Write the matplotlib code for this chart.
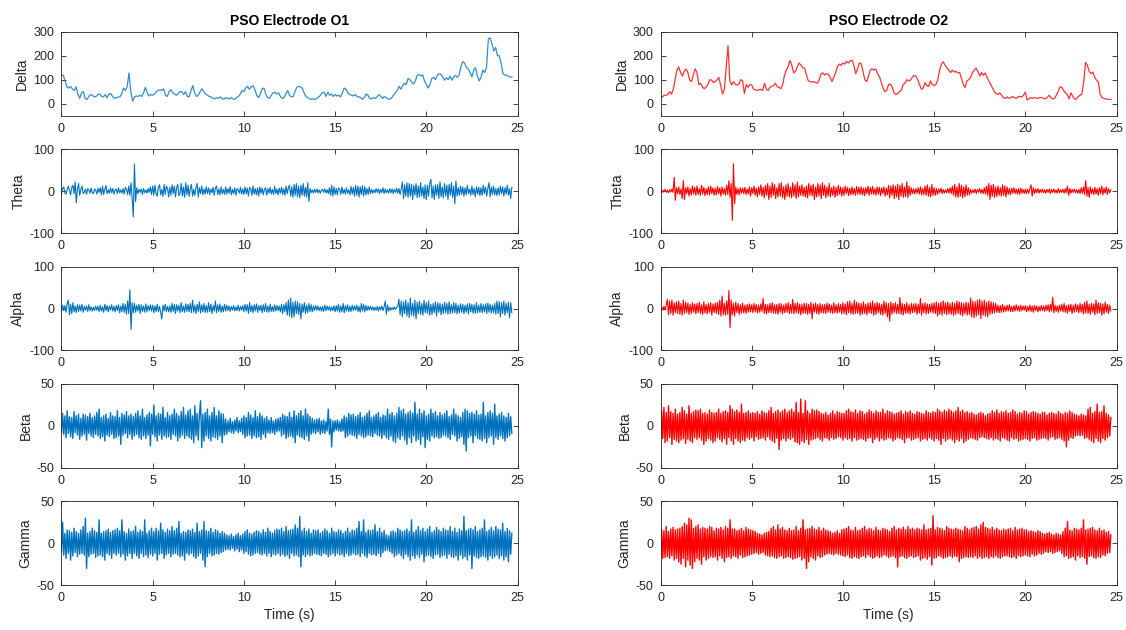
import numpy as np
import matplotlib.pyplot as plt

plt.rcParams['font.family'] = ['Liberation Sans', 'DejaVu Sans']
plt.rcParams['axes.unicode_minus'] = False

# sampling steps (s) of the stored band signals
delta_dt = 0.1
band_dt = 0.0625

# Delta band, electrode O1 and O2 (0.1 s steps)
delta_o1 = [120, 118, 95, 70, 65, 72, 60, 55, 70, 40,
            22, 45, 50, 22, 18, 30, 38, 35, 28, 30,
            38, 40, 30, 28, 38, 25, 40, 42, 30, 22,
            25, 27, 28, 40, 65, 55, 70, 128, 50, 10,
            28, 32, 30, 35, 30, 45, 68, 45, 32, 38,
            35, 40, 50, 55, 58, 55, 62, 35, 30, 50,
            58, 45, 40, 35, 42, 50, 50, 38, 50, 30,
            28, 55, 75, 45, 30, 35, 50, 62, 50, 40,
            35, 30, 28, 22, 20, 25, 22, 28, 22, 18,
            25, 22, 20, 25, 20, 18, 25, 30, 40, 55,
            50, 65, 72, 60, 70, 75, 60, 35, 25, 40,
            62, 65, 40, 25, 22, 35, 45, 48, 40, 45,
            30, 22, 25, 40, 55, 35, 28, 30, 50, 68,
            72, 70, 65, 45, 30, 25, 20, 18, 20, 18,
            22, 28, 35, 45, 48, 30, 48, 35, 40, 30,
            38, 32, 35, 28, 45, 65, 60, 45, 38, 35,
            32, 38, 30, 28, 25, 18, 25, 40, 35, 22,
            20, 25, 22, 28, 38, 30, 22, 30, 25, 20,
            18, 25, 35, 45, 55, 72, 60, 75, 85, 80,
            105, 100, 90, 82, 95, 118, 122, 115, 120, 95,
            80, 65, 80, 105, 110, 100, 118, 125, 122, 112,
            98, 108, 100, 115, 98, 112, 118, 110, 120, 155,
            175, 170, 150, 145, 130, 112, 140, 150, 115, 95,
            110, 140, 130, 150, 270, 275, 250, 220, 235, 200,
            200, 170, 125, 120, 118, 115, 110, 112]

delta_o2 = [22, 28, 35, 35, 38, 50, 40, 60, 100, 140,
            153, 130, 115, 135, 145, 130, 98, 92, 120, 145,
            130, 80, 85, 70, 62, 70, 80, 100, 98, 88,
            92, 100, 110, 75, 40, 60, 150, 242, 95, 78,
            92, 80, 78, 82, 100, 95, 42, 80, 68, 80,
            78, 60, 58, 55, 58, 60, 55, 85, 60, 55,
            68, 72, 75, 85, 70, 68, 62, 80, 120, 140,
            155, 180, 160, 128, 135, 155, 170, 160, 150, 148,
            120, 95, 92, 90, 92, 88, 85, 100, 125, 128,
            120, 125, 122, 110, 92, 110, 130, 155, 165, 160,
            170, 165, 176, 170, 178, 181, 160, 125, 145, 170,
            168, 135, 100, 92, 115, 140, 146, 140, 145, 125,
            113, 90, 65, 50, 55, 80, 82, 70, 45, 38,
            42, 50, 55, 80, 85, 100, 95, 98, 110, 118,
            115, 100, 80, 60, 65, 88, 75, 72, 95, 80,
            75, 80, 100, 140, 165, 175, 160, 150, 140, 130,
            140, 132, 135, 128, 130, 105, 80, 68, 95, 100,
            110, 130, 140, 148, 135, 115, 130, 118, 128, 110,
            95, 80, 65, 50, 42, 38, 45, 35, 25, 22,
            28, 22, 25, 30, 25, 22, 28, 30, 28, 35,
            48, 15, 20, 25, 22, 25, 24, 22, 26, 25,
            22, 20, 25, 35, 25, 20, 22, 35, 50, 70,
            68, 55, 45, 38, 20, 45, 30, 18, 20, 30,
            35, 40, 90, 172, 160, 135, 125, 132, 110, 98,
            90, 40, 25, 22, 20, 18, 18, 18]

# Theta band (0.0625 s steps)
theta_o1 = [-8, 6, 10, -5, -7, 4, 12, 2, -9, 8, 14, -6, 22, -28, 6, 18,
            -10, 4, 12, -6, -3, 5, -8, 6, 3, -5, 7, -4, -6, 5, 2, -7,
            6, -3, 8, -9, 12, -8, 4, 13, -6, 3, -5, 8, -4, 6, -7, 3,
            5, -6, 8, -4, 3, -5, 6, -7, 9, 4, -8, 12, -10, 20, -18, -62,
            65, -25, 8, -6, 4, -3, 5, -8, 6, -4, 3, -5, 6, -3, 10, -8,
            12, -10, 14, -6, -12, 10, 15, -9, 4, -13, 16, -8, 12, 6, -14, 9,
            -10, 15, -6, 12, -14, 8, 16, -11, -5, 18, -12, 10, -15, 20, -9, 14,
            -13, 6, 16, -12, 4, -10, 9, 18, -14, 8, -6, 12, -9, 5, -7, 10,
            -6, 8, -8, 5, -4, 9, -10, 7, 12, -8, 5, -9, 10, -6, 4, -8,
            10, -7, 6, -5, 11, -9, 4, -6, 8, -10, 6, 3, -5, 9, -7, 5,
            -8, 10, -6, 7, -12, 9, 5, -10, 12, -7, 6, -9, 8, -12, 10, -5,
            7, -9, 4, 8, -10, 6, -5, 9, -7, 4, -8, 11, -6, 5, -9, 7,
            -5, 9, -8, 6, -10, 12, -6, 8, 14, -12, 10, -15, 16, -10, 18, -14,
            12, -16, 14, -10, 18, -12, 9, -14, 20, -25, 6, -4, 3, -5, 4, -3,
            5, -4, 3, -5, 2, 4, -3, 5, -4, 3, -6, 8, -10, 14, -12, 10,
            -8, 6, -9, 7, 5, -8, 10, -6, 4, -7, 8, -5, 3, -9, 11, -7,
            9, -12, 14, -10, 12, -14, 10, -8, 13, -12, 11, -9, 6, -8, 10, -6,
            4, -5, 3, -4, 6, -3, 5, -6, 4, -3, 8, -6, 5, -4, 3, -5,
            6, -4, 5, -6, 4, -3, 7, -5, 6, -8, 5, 22, -18, 15, -12, 20,
            -15, 18, -12, 16, -20, 14, -10, 18, -16, 12, -14, 20, -12, 10, -18, 15,
            -20, 14, -12, 18, 28, -16, 12, -20, 15, -10, 16, -18, 22, -14, 10, -16,
            18, -12, 14, -20, 16, -10, 20, -15, 12, -30, 24, -12, 8, -10, 12, -8,
            10, -12, 8, -9, 14, -6, 5, -10, 12, -8, 6, -14, 10, -7, 9, -11,
            8, -10, 14, -6, 9, -12, 7, 20, -14, 10, -8, 12, -9, 6, -11, 8,
            -9, 12, -6, 10, -12, 8, -7, 14, -10, 6, -18, 9]

theta_o2 = [-2, 3, -3, 2, 4, -3, 2, -4, 3, -2, 5, -3, 33, -22, 8, -6,
            10, -8, 5, -18, 25, -20, 8, -6, 10, -12, 6, -9, 12, -7, 9, -10,
            12, -8, 6, -10, 14, -7, 9, -11, 6, -8, 10, -9, 12, -6, 8, -10,
            7, -9, 11, -6, 8, -12, 10, -7, 6, -10, 14, -8, 25, -15, 18, -70,
            65, -30, 10, -8, 6, -9, 8, -5, 7, -6, 9, -8, 5, -7, 10, -12,
            8, -6, 12, -10, 7, -14, 10, -8, 15, -12, 9, -16, 14, -10, 18, -20,
            12, -15, 20, -10, 16, -18, 8, -14, 18, -12, 20, -16, 10, -20, 15, -12,
            18, -14, 10, -16, 20, -12, 15, -18, 22, -14, 12, -10, 15, -12, 9, -14,
            12, -16, 18, -10, 14, -12, 16, -20, 10, -14, 18, -12, 15, -18, 20, -10,
            14, -16, 10, -12, 18, -14, 8, -10, 12, -15, 9, -11, 14, -8, 10, -12,
            8, -10, 12, -6, 9, -11, 7, -9, 10, -8, 6, -10, 11, -7, 9, -8,
            10, -9, 7, -11, 8, -6, 12, -10, 9, -7, 11, -8, 6, -9, 10, -7,
            9, -11, 8, -6, 10, -12, 7, -9, 14, -16, 12, -10, 15, -18, 12, -14,
            16, -20, 14, -12, 18, -15, 10, -13, 22, -16, 12, -10, 8, -6, 5, -7,
            6, -5, 8, -7, 10, -9, 6, -8, 12, -10, 15, -12, 9, -14, 16, -10,
            8, -10, 6, -8, 5, -4, 7, -6, 4, -5, 3, -4, 6, -5, 8, -6,
            12, -10, 16, -14, 10, -15, 18, -12, 14, -16, 10, -13, 15, -10, 8, -9,
            4, -5, 3, -4, 5, -6, 4, -3, 6, -5, 4, -6, 8, -7, 12, -10,
            18, -20, 14, -12, 16, -15, 10, -13, 12, -10, 8, -12, 15, -10, 12, -14,
            10, -8, 6, -9, 7, -5, 8, -6, 5, -7, 6, -8, 7, -5, 4, -6,
            5, -6, 4, -5, 6, 15, -12, 8, -6, 5, -4, 6, -5, 4, -3, 5,
            -4, 3, -5, 4, -3, 5, -6, 4, -3, 5, -4, 3, -5, 6, -4, 3,
            -3, 4, -5, 6, -4, 12, -10, 6, -5, 4, -3, 5, -4, 3, -5, 4,
            -6, 8, -5, 10, -8, 25, -12, 8, -15, 10, -6, 5, -8, 9, -7, 6,
            -10, 8, -6, 12, -9, 7, -5, 10, -8, 6, -4, 3]

# Alpha band
alpha_o1 = [-6, 8, -5, 7, -9, 12, 20, -15, 10, -12, 14, -8, 6, -10, 9, -7,
            8, -6, 10, -9, 5, -4, 6, -7, 9, -5, 4, -6, 3, -5, 6, -4,
            5, -7, 8, -6, 4, -9, 10, -5, 7, -8, 6, -4, 9, -6, 5, -8,
            7, -5, 9, -10, 6, -8, 12, -9, 10, -14, 18, -12, 45, -50, 14, -10,
            12, -9, 8, -6, 10, -12, 9, -7, 6, -9, 11, -8, 7, -5, 9, -6,
            8, -10, 6, -7, 10, -8, 5, -9, -25, 8, -6, 10, -7, 5, -8, 6,
            -9, 12, -7, 10, -12, 9, -6, 8, -10, 14, -8, 6, -9, 11, -7, 10,
            -8, 12, -10, 20, -9, 8, -12, 10, -7, 16, -11, 9, -8, 12, -10, 7,
            -9, 14, -8, 10, -12, 7, -6, 18, -10, 9, -7, 11, -9, 6, -8, 10,
            -6, 8, -5, 6, -7, 5, -4, 7, -6, 4, -5, 8, -6, 5, -4, 7,
            -8, 10, -6, 9, -12, 14, -8, 7, -10, 9, -6, 11, -9, 7, -5, 8,
            -10, 9, -7, 12, -8, 6, -9, 10, -7, 5, -8, 9, -6, 7, -5, 6,
            -8, 10, -12, 9, -7, 14, -16, 20, -18, 25, -22, 15, -20, 18, -12, 16,
            -14, 12, -25, 10, -9, 14, -12, 8, -10, 12, -7, 9, -8, 6, -5, 7,
            -4, 6, -5, 4, -6, 5, -7, 8, -5, 6, -4, 5, -6, 4, -5, 6,
            -8, 7, -6, 10, -9, 6, -8, 12, -10, 7, -6, 9, -8, 5, -7, 8,
            -5, 6, -4, 8, -7, 5, -9, 12, -6, 10, -8, 7, -5, 6, -4, 5,
            -3, 4, -5, 3, -4, 5, -6, 4, -3, 6, -5, 4, 18, -14, 8, -6,
            3, -4, 2, -3, 4, -2, 3, 5, 22, -15, 18, -20, 16, -12, 20, -18,
            14, -22, 25, -16, 12, -18, 20, -25, 15, -12, 18, -14, 12, -16, 20, -10,
            14, -12, 18, -16, 10, -14, 12, -10, 16, -18, 14, -9, 12, -15, 10, -12,
            15, -10, 12, -14, 16, -12, 9, -11, 14, -10, 12, -13, 8, -10, 11, -9,
            10, -12, 8, -9, 11, -13, 12, -8, 10, -11, 9, -12, 14, -10, 8, -9,
            12, -10, 9, -8, 11, -12, 13, -9, 10, -11, 8, -10, 12, -14, 18, -12,
            16, -20, 14, -12, 18, -16, 12, -10, 15, -22, 14, -10]

alpha_o2 = [-2, 3, -4, 5, -3, 8, 22, -15, 18, -12, 20, -16, 14, -10, 16, -12,
            18, -14, 12, -16, 20, -12, 15, -10, 13, -14, 10, -12, 14, -9, 11, -13,
            12, -10, 15, -12, 9, -14, 16, -11, 10, -13, 12, -9, 14, -16, 11, -10,
            13, -12, 15, -14, 20, -18, 30, -15, 12, -16, 18, -14, 43, -46, 20, -15,
            12, -18, 15, -10, 12, -14, 9, -11, 13, -10, 8, -12, 10, -9, 11, -8,
            9, -10, 12, -8, 10, -11, 8, -9, 11, -7, 24, -12, 10, -13, 9, -10,
            12, -10, 14, -11, 9, -12, 10, -14, 12, -9, 11, -13, 8, -10, 12, -9,
            14, -12, 10, -11, 22, -13, 12, -10, 14, -12, 11, -15, 10, -12, 13, -11,
            12, -14, 10, -12, 15, -25, 11, -9, 13, -12, 10, -14, 12, -10, 9, -11,
            10, -12, 13, -9, 11, -10, 8, -12, 14, -10, 9, -11, 12, -9, 10, -13,
            14, -12, 11, -15, 16, -10, 18, -13, 12, -14, 20, -12, 15, -11, 13, -16,
            12, -14, 16, -12, 10, -15, 13, -11, 14, -12, 18, -16, 12, -14, 15, -10,
            12, -14, 10, -16, 18, -12, 14, -20, 12, -30, 16, -14, 12, -10, 14, -12,
            10, -12, 26, -14, 12, -15, 10, -11, 14, -12, 9, -13, 12, -10, 11, -9,
            12, -14, 10, -11, 24, -16, 12, -10, 14, -13, 11, -12, 10, -9, 12, -11,
            14, -12, 16, -18, 12, -14, 15, -16, 18, -12, 14, -15, 16, -13, 12, -14,
            15, -17, 12, -14, 18, -12, 16, -15, 14, -18, 12, -13, 15, -16, 13, -14,
            25, -20, 18, -22, 16, -18, 20, -15, 22, -24, 18, -16, 20, -18, 15, -20,
            18, -14, 16, -12, 14, -10, 12, -9, 8, -10, 7, -9, 10, -8, 6, -7,
            8, -6, 9, -7, 5, -8, 7, -6, 9, -5, 6, -7, 8, -5, 6, -4,
            7, -8, 5, -6, 8, -7, 6, -9, 7, -5, 6, -8, 5, -6, 7, -5,
            6, -7, 8, -5, 9, -8, 10, -6, 27, -10, 8, -7, 6, -9, 8, -6,
            10, -8, 12, -9, 7, -11, 9, -7, 10, -12, 8, -9, 11, -7, 9, -10,
            12, -9, 10, -13, 15, -11, 18, -12, 10, -14, 12, -9, 11, -15, 20, -12,
            14, -10, 12, -16, 11, -13, 15, -9, 10, -12, 8, -6]

# Beta band
beta_o1 = [-8, 15, -10, 12, -14, 18, -9, 11, -13, 10, -15, 17, -8, 12, -11, 14,
           -16, 9, -12, 14, -10, 13, -17, 11, -9, 15, -12, 10, -14, 12, -10, 16,
           -12, 20, -15, 10, -13, 12, -18, 14, -11, 9, -13, 16, -10, 12, -15, 11,
           -14, 18, -12, 10, -22, 15, -11, 13, -9, 17, -14, 12, -10, 14, -16, 11,
           -12, 15, -10, 18, -14, 12, -16, 20, -12, 10, -15, 13, -11, 16, -24, 14,
           -10, 25, -13, 12, -18, 15, -11, 14, -16, 22, -12, 10, -14, 16, -13, 12,
           -16, 14, -10, 20, -12, 15, -18, 12, -14, 17, -11, 22, -15, 13, -12, 18,
           -14, 20, -16, 12, -20, 24, -12, 15, -17, 13, 30, -26, 14, -18, 16, -12,
           20, -15, 12, -18, 16, -13, 22, -14, 12, -16, 18, -12, 15, -20, 14, -11,
           8, -10, 6, -7, 9, -8, 5, -9, 7, -6, 10, -8, 6, -7, 9, -10,
           12, -14, 10, -12, 16, -11, 13, -15, 10, -12, 18, -14, 11, -13, 15, -16,
           12, -10, 9, -14, 11, -8, 7, -9, 10, -8, 6, -10, 8, -7, 9, -6,
           10, -12, 14, -10, 12, -15, 11, -13, 16, -12, 10, -14, 18, -20, 12, -11,
           15, -13, 18, -14, 12, -16, 20, -12, 14, -18, 11, -10, 9, -8, 7, -9,
           8, -7, 9, -10, 6, -8, 7, -9, 5, -6, 20, -10, 8, -25, 6, -7,
           6, -5, 7, -6, 5, -7, 8, -6, 12, -14, 10, -12, 15, -10, 13, -11,
           14, -12, 11, -15, 13, -10, 16, -12, 10, -14, 12, -13, 15, -11, 18, -12,
           10, -13, 12, -9, 14, -11, 16, -12, 10, -15, 13, -11, 12, -14, 20, -16,
           14, -12, 16, -18, 12, -20, 15, -14, 22, -16, 18, -12, 20, -17, 14, -22,
           16, -14, 18, -20, 15, -12, 28, -18, 14, -16, 20, -22, 15, -13, 18, -26,
           12, -16, 14, -18, 20, -12, 15, -14, 17, -13, 12, -15, 16, -14, 13, -11,
           15, -12, 18, -14, 11, -16, 13, -10, 20, -12, 14, -18, 12, -15, 10, -13,
           16, -22, 20, -30, 18, -14, 15, -12, 16, -20, 14, -12, 18, -15, 13, -16,
           14, -18, 28, -15, 12, -20, 16, -14, 18, -12, 15, -22, 26, -14, 12, -16,
           14, -12, 16, -15, 12, -18, 10, -14, 15, -12, 11, -9]

beta_o2 = [-12, 18, -15, 22, -20, 16, -18, 24, -14, 17, -22, 15, -16, 20, -18, 14,
           -20, 16, -17, 22, -15, 18, -21, 14, -16, 24, -18, 15, -20, 17, -14, 19,
           -16, 18, -14, 20, -17, 15, -22, 16, -18, 14, -15, 19, -17, 16, -20, 15,
           -18, 16, -14, 20, -16, 15, -19, 17, -15, 18, -22, 16, -14, 24, -18, 20,
           -22, 17, -15, 19, -18, 16, -20, 26, -17, 15, -18, 16, -14, 18, -16, 15,
           -14, 16, -18, 15, -13, 17, -16, 14, -15, 18, -14, 16, -17, 15, -13, 18,
           -16, 22, -18, 15, -20, 17, -15, 19, -28, 16, -17, 18, -15, 20, -18, 16,
           -15, 18, -16, 20, -14, 17, -19, 28, -20, 16, -22, 32, -18, 15, -20, 30,
           -16, 18, -22, 15, -17, 20, -16, 18, -15, 19, -14, 17, -16, 15, -18, 14,
           -14, 16, -15, 13, -17, 15, -14, 18, -16, 14, -15, 17, -13, 16, -14, 15,
           -17, 15, -14, 18, -16, 20, -15, 17, -18, 16, -14, 19, -17, 15, -16, 18,
           -15, 17, -16, 14, -18, 16, -15, 19, -14, 17, -20, 15, -16, 18, -14, 16,
           -18, 16, -15, 20, -17, 15, -16, 18, -14, 17, -15, 16, -18, 14, -16, 15,
           -14, 16, -15, 18, -16, 14, -20, 17, -15, 16, -14, 18, -17, 15, -16, 14,
           -15, 17, -14, 16, -18, 15, -16, 14, -15, 18, -17, 16, -14, 15, -16, 17,
           -18, 16, -15, 20, -17, 18, -22, 16, -15, 19, -18, 17, -16, 20, -15, 18,
           -17, 16, -20, 18, -16, 22, -18, 17, -15, 19, -20, 16, -18, 17, -16, 15,
           -14, 16, -15, 14, -16, 13, -17, 15, -14, 16, -13, 15, -14, 12, -15, 14,
           -16, 15, -14, 18, -17, 16, -15, 19, -16, 15, -18, 17, -14, 16, -15, 18,
           -17, 15, -18, 16, -14, 19, -16, 17, -15, 14, -18, 16, -17, 15, -16, 18,
           -15, 17, -16, 14, -18, 16, -15, 17, -14, 16, -17, 15, -16, 14, -15, 16,
           -14, 16, -15, 13, -17, 15, -14, 16, -13, 15, -16, 14, -15, 17, -14, 15,
           -16, 14, -18, 16, -25, 15, -17, 18, -14, 16, -15, 14, -12, 13, -11, 12,
           -12, 14, -11, 13, -15, 12, -14, 20, -16, 22, -18, 15, -20, 17, -15, 26,
           -18, 16, -20, 17, -15, 24, -17, 15, -14, 13, -12, 10]

# Gamma band
gamma_o1 = [-10, 25, -14, 12, -18, 16, -12, 15, -20, 13, -15, 18, -11, 14, -16, 12,
            -13, 16, -12, 20, -14, 30, -30, 12, -16, 14, -13, 18, -12, 15, -17, 13,
            -15, 28, -14, 12, -16, 14, -20, 15, -12, 17, -14, 13, -18, 15, -12, 16,
            -14, 18, -12, 15, -16, 28, -13, 14, -20, 12, -15, 17, -12, 14, -18, 15,
            -12, 20, -15, 13, -18, 16, -12, 14, -16, 28, -14, 12, -17, 15, -13, 18,
            -15, 14, -12, 18, -20, 15, -13, 24, -12, 16, -18, 13, -14, 17, -12, 15,
            -16, 20, -13, 15, -12, 18, -14, 26, -16, 12, -15, 14, -20, 13, -12, 16,
            -14, 15, -12, 17, -16, 13, -18, 24, -15, 14, -12, 16, -20, 26, -28, 15,
            -16, 14, -12, 18, -15, 13, -14, 16, -12, 15, -13, 12, -11, 14, -10, 12,
            -8, 10, -7, 9, -8, 11, -6, 8, -9, 10, -7, 12, -10, 9, -8, 11,
            -12, 14, -10, 16, -13, 12, -15, 11, -14, 13, -12, 15, -11, 14, -13, 12,
            -14, 16, -12, 13, -15, 18, -12, 14, -16, 12, -13, 15, -14, 17, -12, 16,
            -15, 18, -13, 14, -16, 20, -14, 15, -18, 16, -12, 17, -15, 22, -14, 18,
            -16, 32, -28, 15, -14, 18, -16, 14, -13, 17, -15, 12, -14, 16, -12, 15,
            -13, 16, -14, 12, -15, 14, -12, 17, -13, 15, -16, 12, -14, 18, -12, 14,
            -15, 13, -12, 16, -14, 15, -13, 12, -16, 14, -12, 18, -15, 13, -14, 16,
            -12, 15, -14, 18, -13, 26, -16, 14, -12, 28, -15, 13, -17, 16, -12, 15,
            -14, 16, -13, 22, -15, 14, -12, 18, -16, 13, -11, 15, -9, 10, -8, 9,
            -10, 14, -12, 15, -16, 13, -14, 18, -12, 16, -15, 14, -18, 15, -13, 17,
            -16, 14, -20, 28, -15, 13, -18, 16, -14, 20, -17, 15, -13, 18, -22, 14,
            -15, 17, -14, 20, -16, 13, -18, 15, -14, 19, -13, 16, -17, 14, -15, 18,
            -14, 16, -18, 15, -13, 20, -16, 14, -17, 18, -15, 13, -20, 17, -14, 15,
            -18, 32, -16, 15, -20, 17, -14, 18, -30, 16, -15, 20, -17, 14, -18, 16,
            -16, 18, -15, 28, -17, 14, -20, 16, -15, 19, -18, 15, -16, 20, -14, 17,
            -18, 16, -15, 24, -20, 14, -16, 18, -22, 15, -13, 12]

gamma_o2 = [-14, 16, -18, 15, -17, 20, -16, 14, -18, 17, -15, 19, -20, 16, -18, 17,
            -22, 18, -25, 20, -18, 24, -28, 22, -20, 30, -26, 28, -30, 18, -22, 20,
            -18, 22, -20, 17, -25, 19, -16, 18, -20, 17, -18, 20, -16, 19, -17, 15,
            -16, 18, -20, 17, -15, 19, -18, 16, -22, 20, -17, 18, -16, 28, -18, 17,
            -15, 17, -16, 15, -18, 16, -14, 18, -17, 15, -16, 19, -15, 17, -14, 16,
            -13, 15, -12, 14, -11, 12, -13, 11, -12, 10, -11, 12, -14, 13, -15, 14,
            -16, 18, -15, 20, -17, 16, -18, 22, -16, 17, -15, 19, -18, 16, -17, 15,
            -16, 18, -17, 15, -19, 16, -18, 20, -17, 15, -16, 18, -20, 28, -18, 16,
            -30, 17, -22, 18, -16, 20, -18, 17, -20, 16, -15, 19, -17, 15, -16, 18,
            -14, 16, -13, 15, -12, 14, -13, 12, -14, 13, -12, 15, -13, 12, -14, 16,
            -15, 17, -16, 18, -14, 20, -17, 16, -18, 15, -16, 19, -17, 15, -18, 16,
            -16, 18, -15, 20, -17, 16, -14, 18, -16, 17, -18, 15, -17, 19, -15, 16,
            -17, 15, -16, 18, -14, 17, -15, 16, -17, 14, -16, 18, -15, 20, -17, 16,
            -28, 18, -16, 17, -15, 19, -17, 16, -18, 20, -16, 17, -15, 18, -17, 16,
            -16, 18, -15, 17, -20, 16, -18, 22, -17, 16, -19, 17, -16, 18, -26, 33,
            -18, 16, -17, 19, -15, 18, -16, 17, -18, 15, -17, 20, -16, 18, -15, 17,
            -17, 16, -15, 18, -16, 17, -22, 16, -18, 15, -17, 20, -16, 18, -17, 16,
            -16, 18, -17, 19, -15, 20, -18, 17, -16, 22, -18, 25, -17, 19, -16, 18,
            -18, 17, -16, 19, -17, 16, -15, 18, -17, 16, -18, 15, -16, 17, -15, 16,
            -15, 17, -16, 18, -17, 15, -16, 19, -18, 16, -15, 17, -16, 18, -15, 16,
            -14, 16, -15, 14, -16, 15, -13, 14, -15, 13, -14, 15, -12, 14, -13, 12,
            -12, 11, -10, 12, -11, 13, -10, 11, -12, 10, -11, 12, -10, 11, -9, 10,
            -12, 14, -16, 18, -15, 26, -18, 16, -17, 15, -16, 18, -20, 17, -15, 16,
            -17, 18, -16, 28, -18, 16, -25, 17, -16, 18, -15, 19, -17, 16, -18, 15,
            -16, 18, -17, 15, -14, 16, -15, 13, -12, 14, -11, 10]

band_names = ['Delta', 'Theta', 'Alpha', 'Beta', 'Gamma']
band_ylims = [(-50, 300), (-100, 100), (-100, 100), (-50, 50), (-50, 50)]
band_yticks = [[0, 100, 200, 300], [-100, 0, 100], [-100, 0, 100],
               [-50, 0, 50], [-50, 0, 50]]
line_widths = [0.9, 0.8, 0.8, 1.0, 1.0]
electrodes = ['O1', 'O2']
colors = ['#0072BD', '#FF0000']
signals = [[delta_o1, theta_o1, alpha_o1, beta_o1, gamma_o1],
           [delta_o2, theta_o2, alpha_o2, beta_o2, gamma_o2]]

text_col = '#262626'
fig = plt.figure(figsize=(11.26, 6.30), dpi=100)

col_left = [0.0546, 0.5866]
ax_w = 0.405
ax_h = 83.8 / 630
for c in range(2):
    for r in range(5):
        top = 1 - (31.8 + 117.4 * r) / 630
        ax = fig.add_axes([col_left[c], top - ax_h, ax_w, ax_h])
        y = np.array(signals[c][r], dtype=float)
        step = delta_dt if r == 0 else band_dt
        t = np.arange(len(y)) * step
        ax.plot(t, y, color=colors[c], lw=line_widths[r],
                alpha=0.8 if r == 0 else 1.0)
        ax.set_xlim(0, 25)
        ax.set_ylim(*band_ylims[r])
        ax.set_xticks([0, 5, 10, 15, 20, 25])
        ax.set_yticks(band_yticks[r])
        ax.tick_params(direction='in', length=3.5, width=0.6, top=True, right=True,
                       labelsize=9, colors=text_col, pad=5)
        for sp in ax.spines.values():
            sp.set_color(text_col)
            sp.set_linewidth(0.6)
        ax.set_ylabel(band_names[r], fontsize=10, color=text_col, labelpad=3)
        if r == 0:
            ax.set_title('PSO Electrode ' + electrodes[c], fontsize=10,
                         fontweight='bold', color='black', pad=5)
        if r == 4:
            ax.set_xlabel('Time (s)', fontsize=10, color=text_col, labelpad=3)

fig.savefig('out.png', dpi=100, facecolor='white')
